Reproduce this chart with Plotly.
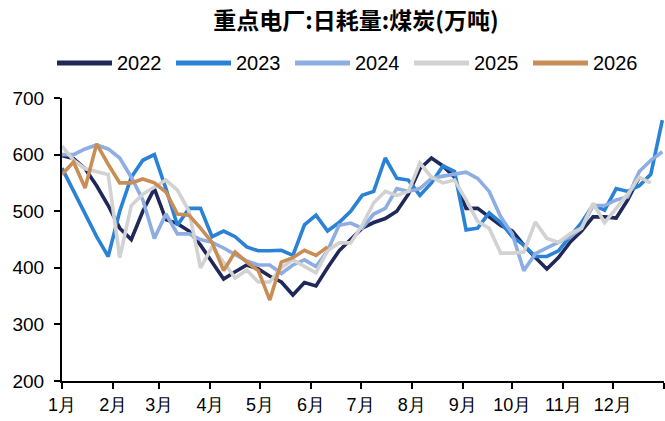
import plotly.graph_objects as go

# Weekly observations, x = days since 1 Jan
days = [7 * i for i in range(53)]

month_ticks = [0, 31, 59, 90, 120, 151, 181, 212, 243, 273, 304, 334, 365]
month_labels = ["1月", "2月", "3月", "4月", "5月", "6月", "7月", "8月", "9月", "10月", "11月", "12月", ""]

y2022 = [598, 593, 575, 545, 510, 470, 450, 500, 540, 485, 478, 465, 440, 410, 380, 393,
         405, 398, 385, 375, 352, 374, 368, 400, 430, 450, 470, 480, 487, 500, 530, 575,
         594, 580, 560, 505, 505, 490, 475, 465, 440, 418, 398, 418, 445, 465, 490, 490,
         488, 520, 560]
y2023 = [576, 535, 495, 455, 420, 500, 560, 590, 600, 540, 475, 505, 505, 455, 465, 455,
         437, 430, 430, 431, 422, 476, 493, 465, 480, 500, 528, 535, 594, 558, 555, 528,
         550, 580, 570, 467, 470, 497, 480, 455, 440, 420, 420, 430, 455, 480, 511, 502,
         540, 535, 545, 565, 661]
y2024 = [600, 600, 610, 617, 610, 594, 560, 520, 452, 495, 460, 460, 450, 445, 435, 424,
         412, 405, 405, 390, 405, 414, 402, 430, 475, 479, 470, 495, 505, 540, 535, 540,
         558, 562, 566, 569, 558, 535, 490, 460, 395, 425, 435, 445, 455, 470, 510, 510,
         520, 525, 570, 590, 605]
y2025 = [615, 590, 575, 570, 565, 418, 510, 530, 543, 555, 537, 500, 400, 437, 410, 382,
         396, 375, 375, 400, 414, 402, 391, 430, 444, 444, 475, 515, 535, 528, 535, 585,
         560, 550, 555, 520, 482, 470, 426, 426, 428, 481, 452, 445, 460, 470, 514, 480,
         505, 530, 560, 550]
y2026 = [565, 587, 541, 619, 583, 550, 550, 557, 550, 534, 495, 493, 470, 445, 395, 428,
         410, 395, 343, 410, 418, 431, 422, 437]

series = [
    ("2022", y2022, "#20285A"),
    ("2023", y2023, "#2A82D7"),
    ("2024", y2024, "#8EADE2"),
    ("2025", y2025, "#D2D2D2"),
    ("2026", y2026, "#C98E56"),
]

# plot area in pixels (used to place the legend row above it)
W, H = 665, 421
ML, MR, MT, MB = 62, 1, 98, 40
PW, PH = W - ML - MR, H - MT - MB


def px_x(px):
    return (px - ML) / PW


def px_y(py):
    return (H - MB - py) / PH


fig = go.Figure()
for name, vals, color in series:
    fig.add_trace(go.Scatter(
        x=days[:len(vals)], y=vals, name=name, mode="lines",
        line=dict(color=color, width=3.6), showlegend=False,
    ))

font_fam = "Arial, Liberation Sans, sans-serif"

# legend row: a short line sample followed by the year
legend_y = px_y(63)
for i, (name, _, color) in enumerate(series):
    x0 = 57 + 119 * i
    fig.add_shape(type="line", xref="paper", yref="paper",
                  x0=px_x(x0), x1=px_x(x0 + 55), y0=legend_y, y1=legend_y,
                  line=dict(color=color, width=5))
    fig.add_annotation(text=name, xref="paper", yref="paper",
                       x=px_x(x0 + 58), y=legend_y, xanchor="left", yanchor="middle",
                       showarrow=False,
                       font=dict(family=font_fam, size=20, color="black"))

fig.update_layout(
    width=W, height=H,
    margin=dict(l=ML, r=MR, t=MT, b=MB),
    paper_bgcolor="white", plot_bgcolor="white",
    title=dict(
        text="<b>重点电厂:日耗量:煤炭(万吨)</b>",
        x=356 / W, xanchor="center", xref="container",
        y=1 - 21 / H, yanchor="middle", yref="container",
        font=dict(family="Noto Sans CJK SC", size=23, color="black"),
    ),
    showlegend=False,
)

fig.update_xaxes(
    range=[0, 365], tickmode="array", tickvals=month_ticks, ticktext=month_labels,
    showline=True, linecolor="black", linewidth=2, ticks="outside", ticklen=6,
    tickwidth=2, tickcolor="black", showgrid=False, zeroline=False,
    tickfont=dict(family=font_fam, size=18, color="black"),
)
fig.update_yaxes(
    range=[200, 700], tickvals=[200, 300, 400, 500, 600, 700],
    showline=True, linecolor="black", linewidth=2, ticks="outside", ticklen=6,
    tickwidth=2, tickcolor="black", showgrid=False, zeroline=False,
    ticklabelstandoff=6,
    tickfont=dict(family=font_fam, size=19, color="black"),
)

fig.write_html("out.html")
